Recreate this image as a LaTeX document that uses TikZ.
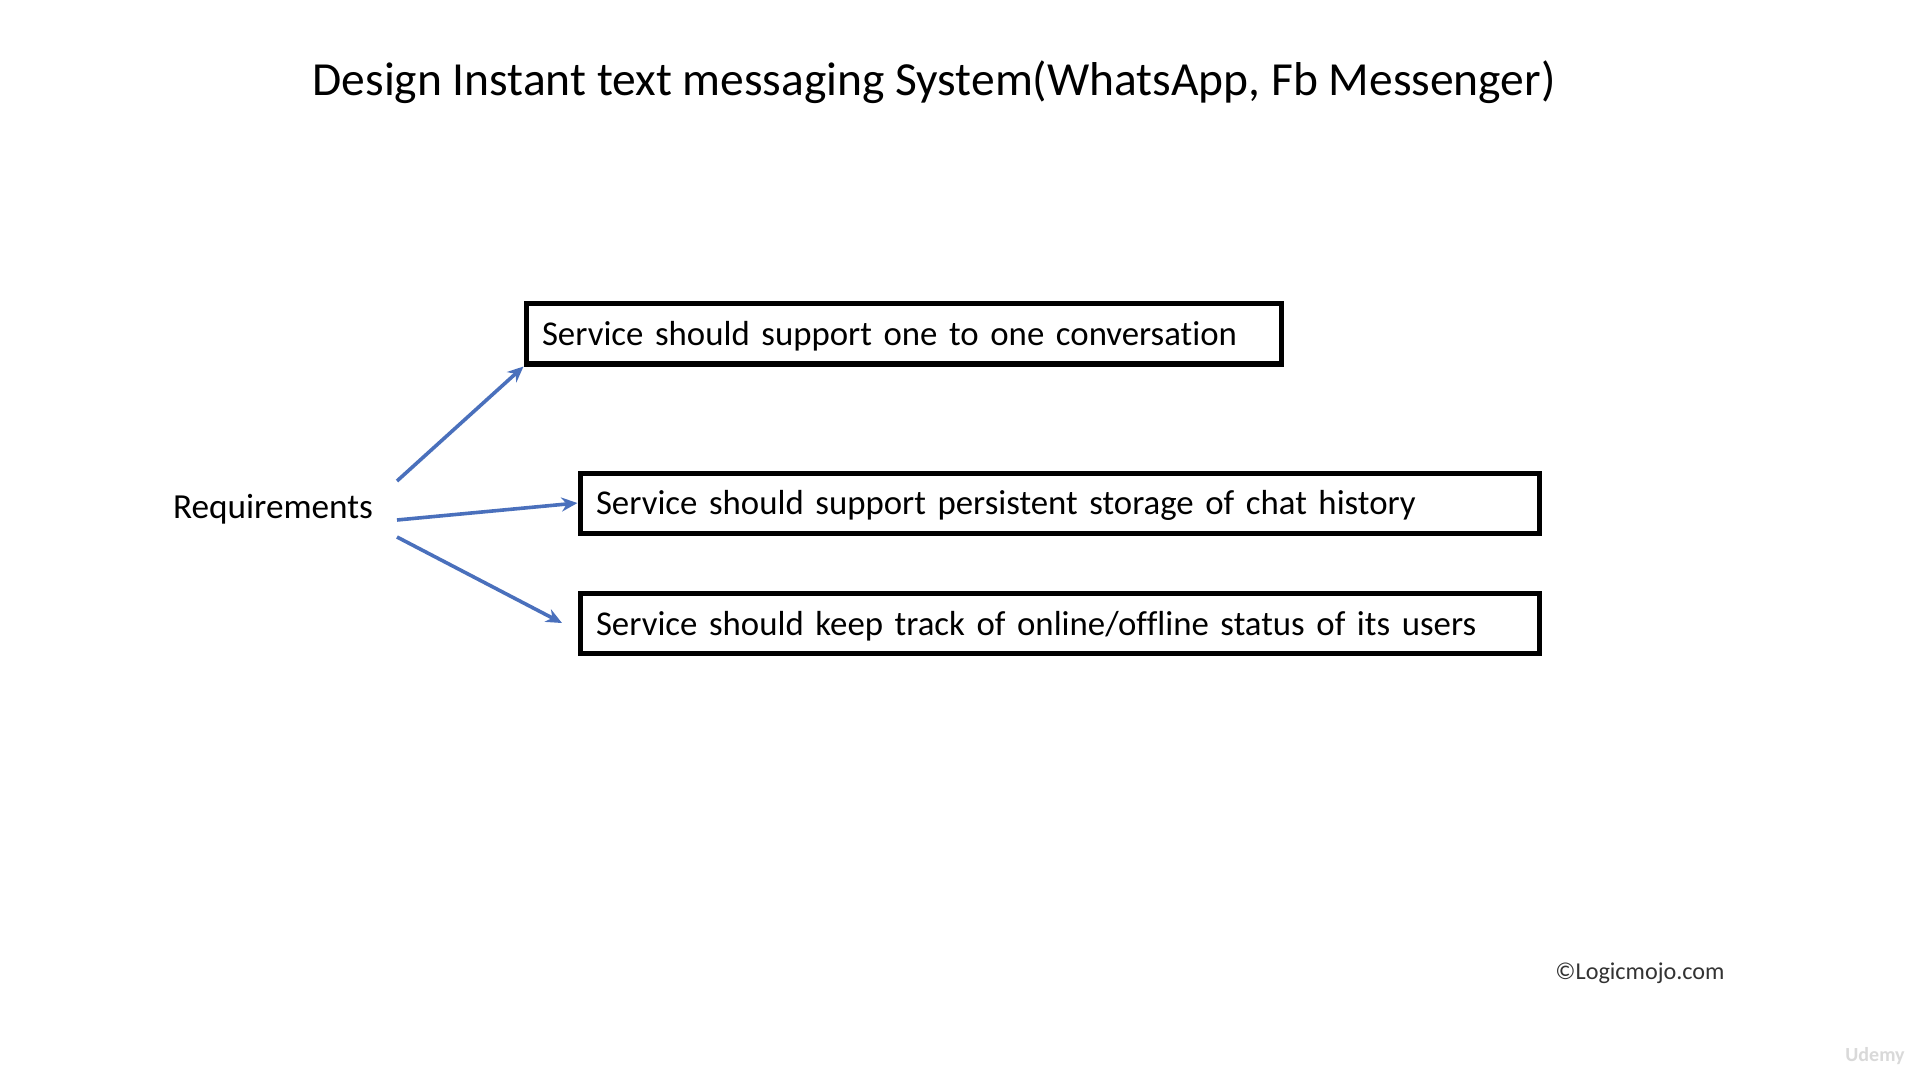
\documentclass[tikz,border=0pt]{standalone}
\usepackage{fontspec}
\setmainfont{Carlito}[Ligatures=NoCommon]
\usetikzlibrary{arrows.meta}
\definecolor{arrowblue}{HTML}{4A70BC}
\tikzset{
  reqbox/.style={draw=black, line width=2.5pt, inner xsep=8pt, inner ysep=0pt, minimum height=30pt, text height=15.5pt, text depth=4pt, align=left, font=\fontsize{17.4}{21}\selectfont, anchor=center},
  reqarrow/.style={draw=arrowblue, line width=1.8pt, -{Stealth[length=8pt,width=7pt]}},
}
\begin{document}
\begin{tikzpicture}[x=0.5pt,y=-0.5pt]
\useasboundingbox[fill=white] (0,0) rectangle (1920,1080);
\node[font=\fontsize{23.75}{29}\selectfont] (title) at (934,82) {Design Instant text messaging System(WhatsApp, Fb Messenger)};
\node[font=\fontsize{17.6}{21}\selectfont] (req) at (273,509) {Requirements};
\node[reqbox, text width=361.5pt] (b1) at (903.5,334) {Service should support one to one conversation};
\node[reqbox, text width=463.5pt] (b2) at (1059.5,503) {Service should support persistent storage of chat history};
\node[reqbox, text width=463.5pt] (b3) at (1059.5,623.5) {Service should keep track of online/offline status of its users};
\coordinate (s1) at (397,481);
\coordinate (s2) at (397,520);
\coordinate (s3) at (397,537);
\coordinate (e3) at (562,623);
\draw[reqarrow] (s1) -- (b1.south west);
\draw[reqarrow] (s2) -- (b2.west);
\draw[reqarrow] (s3) -- (e3);
\node[font=\fontsize{12.1}{14}\selectfont, text=black!80] (copy) at (1640,973) {©Logicmojo.com};
\node[font=\fontsize{10}{12}\selectfont\bfseries, text=black!15] (udemy) at (1875,1056) {Udemy};
\end{tikzpicture}
\end{document}
